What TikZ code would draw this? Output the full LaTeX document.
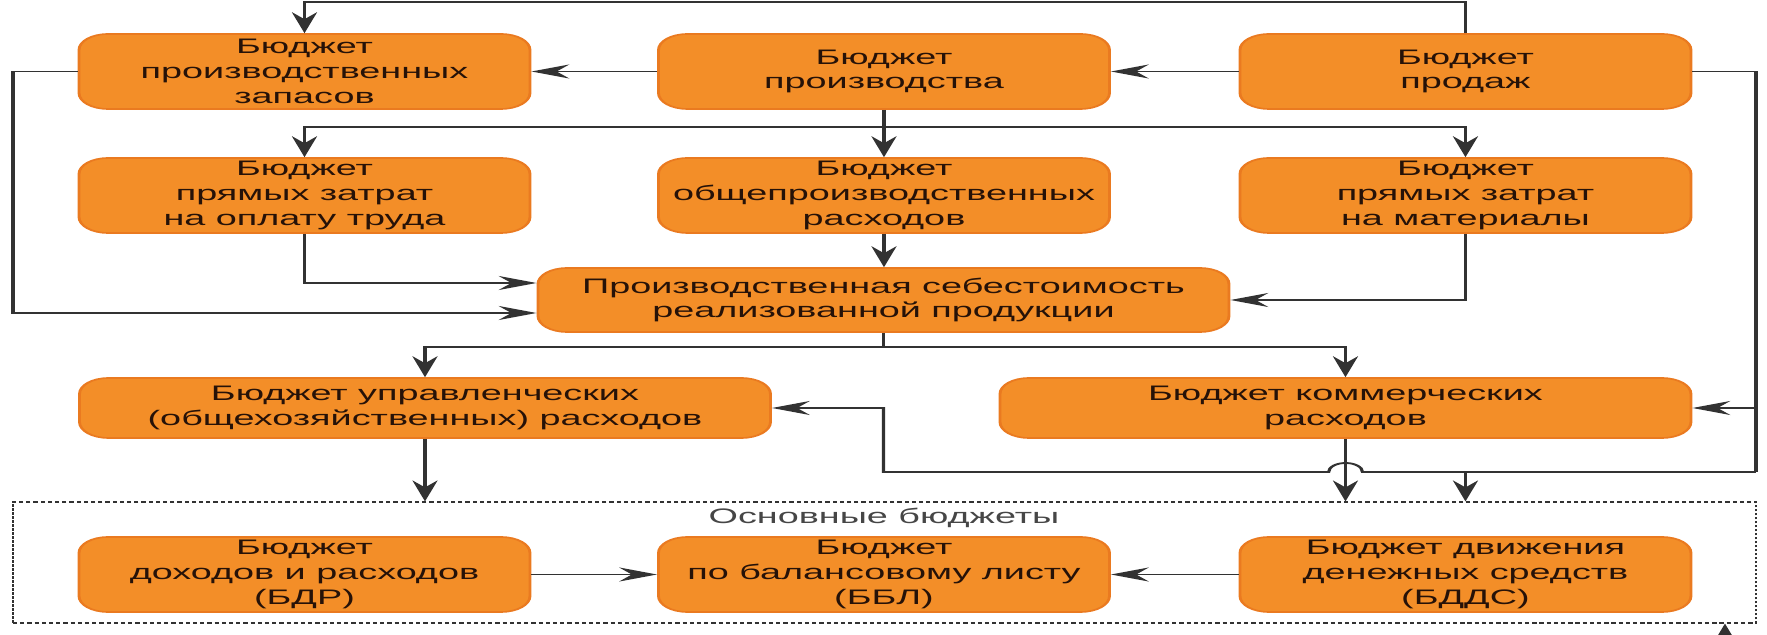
\documentclass[tikz,border=0pt]{standalone}
\usepackage{fontspec}
\setmainfont{Liberation Sans}
\usetikzlibrary{arrows.meta,calc}

\definecolor{boxfill}{RGB}{243,142,40}
\definecolor{boxedge}{RGB}{234,122,32}
\definecolor{ink}{RGB}{38,18,8}
\definecolor{wire}{RGB}{50,50,50}
\definecolor{caption}{RGB}{70,70,70}

% The whole chart is laid out in a narrow frame and widened by 1.8 on the canvas.
\tikzset{
  budget/.style={rectangle, rounded corners=8pt, fill=boxfill, draw=boxedge,
    line width=0.8pt, text=ink, align=center, inner sep=0pt,
    font=\fontsize{10.5}{12.4}\selectfont},
  small/.style={budget, minimum width=125.28pt, minimum height=37.5pt},
  wide/.style={budget, minimum width=191.94pt, minimum height=30pt},
  wire/.style={draw=wire, line width=0.9pt},
  arr/.style={wire, -{Stealth[length=10.5pt,width=7pt,inset=3.5pt]}},
  groupbox/.style={rectangle, draw=wire, line width=0.6pt,
    dash pattern=on 1.2pt off 0.8pt, minimum width=484.17pt, minimum height=60.5pt, inner sep=0pt}
}

\begin{document}
\begin{tikzpicture}[x=0.5pt, y=-0.5pt]
\useasboundingbox (0,0) rectangle (1767,635);
\clip (0,0) rectangle (1767,635);
\begin{scope}[transform canvas={xscale=1.8}, x=0.277778pt, y=-0.5pt]

% row 1
\node[small] (zap)    at (304.5,71.5) {Бюджет\\производственных\\запасов};
\node[small] (proizv) at (884,71.5)   {Бюджет\\производства};
\node[small] (prod)   at (1465.5,71.5){Бюджет\\продаж};
% row 2
\node[small] (trud)   at (304.5,195.5){Бюджет\\прямых затрат\\на оплату труда};
\node[small] (obsch)  at (884,195.5)  {Бюджет\\общепроизводственных\\расходов};
\node[small] (mat)    at (1465.5,195.5){Бюджет\\прямых затрат\\на материалы};
% cost of goods sold
\node[budget, minimum width=191.94pt, minimum height=32pt] (ps) at (883.5,300)
  {Производственная себестоимость\\реализованной продукции};
% row 4
\node[wide] (upr) at (425,408)   {Бюджет управленческих\\(общехозяйственных) расходов};
\node[wide] (kom) at (1345.5,408){Бюджет коммерческих\\расходов};
% main budgets group
\node[groupbox] (main) at (884.5,562.5) {};
\node[text=caption, font=\fontsize{10.5}{12.4}\selectfont] (maintitle) at (884,518) {Основные бюджеты};
\node[small] (bdr)  at (304.5,574.5) {Бюджет\\доходов и расходов\\(БДР)};
\node[small] (bbl)  at (884,574.5)   {Бюджет\\по балансовому листу\\(ББЛ)};
\node[small] (bdds) at (1465.5,574.5){Бюджет движения\\денежных средств\\(БДДС)};

% top feedback from sales to inventory budget
\draw[arr] (prod.north) -- ++(0,-31) -| (zap.north);
\draw[arr] (prod.west) -- (proizv.east);
\draw[arr] (proizv.west) -- (zap.east);

% production budget fans out to the cost budgets
\coordinate (b1) at (884,127);
\draw[arr] (proizv.south) -- (obsch.north);
\draw[arr] (b1) -| (trud.north);
\draw[arr] (b1) -| (mat.north);

% inputs to cost of goods sold
\coordinate (lft) at (13,313);
\draw[arr] (zap.west) -| (lft) -- ([yshift=-6.5pt]ps.west);
\draw[arr] (trud.south) |- ([yshift=8.5pt]ps.west);
\draw[arr] (mat.south) |- (ps.east);
\draw[arr] (obsch.south) -- (obsch.south |- ps.north);

% cost of goods sold to admin and selling budgets
\draw[wire] (ps.south) -- ++(0,14) coordinate (b2);
\draw[arr] (b2) -| (upr.north);
\draw[arr] (b2) -| (kom.north);

% sales budget down the right side
\coordinate (rgt) at (1756,472);
\coordinate (b3) at (1465.5,472);
\draw[wire] (prod.east) -| (rgt);
\draw[arr] (kom.east -| rgt) -- (kom.east);
\draw[arr] (rgt) -- ($(kom.south |- rgt)+(17,0)$)
  arc[start angle=0, end angle=180, x radius=4.7pt, y radius=4.5pt]
  -- (b2 |- rgt) -- (b2 |- upr.east) -- (upr.east);
\draw[arr] (b3) -- (b3 |- main.north);

% into the main budgets
\draw[arr] (upr.south) -- (upr.south |- main.north);
\draw[arr] (kom.south) -- (kom.south |- main.north);
\draw[arr] (bdr.east) -- (bbl.west);
\draw[arr] (bdds.west) -- (bbl.east);

% incoming arrow at the bottom edge
\coordinate (bot) at (1725,660);
\draw[arr] (bot) -- (bot |- main.south);
\end{scope}
\end{tikzpicture}
\end{document}
